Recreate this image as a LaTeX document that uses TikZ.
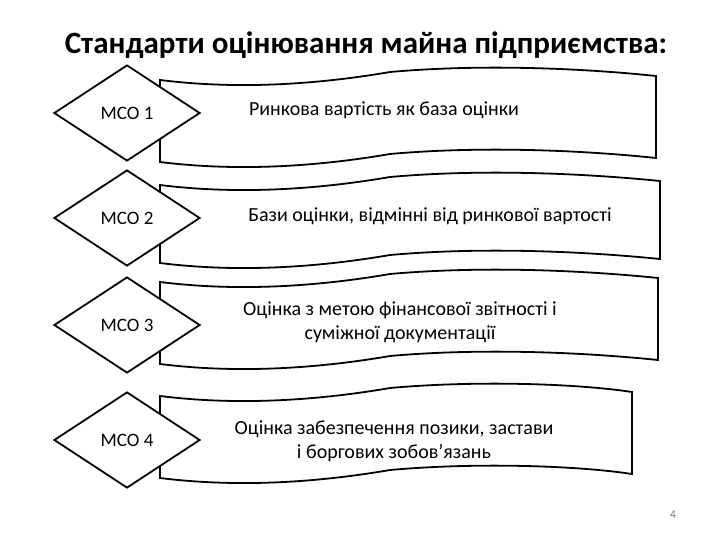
\documentclass[tikz,border=0pt]{standalone}
\usepackage{fontspec}
\setmainfont{Carlito}
\usetikzlibrary{shapes.geometric}
\newcommand{\banner}[3]{%
\draw[line width=1.8pt,fill=white] (160,#1+10) .. controls (240,#1+20) and (320,#1+14) .. (390,#1+2)
  .. controls (480,#1-6) and (580,#1-2) .. (#2,#1+6) -- (#2,#1+6+#3)
  .. controls (580,#1-2+#3) and (480,#1-6+#3) .. (390,#1+2+#3)
  .. controls (320,#1+14+#3) and (240,#1+20+#3) .. (160,#1+10+#3) -- cycle;}
\begin{document}
\begin{tikzpicture}
[
x=1pt, y=-1pt,
mco/.style={diamond, draw, line width=1.8pt, fill=white, minimum width=146pt, minimum height=96pt, inner sep=0pt, font=\fontsize{19}{22}\selectfont},
std/.style={align=center, font=\fontsize{20}{24}\selectfont}
]
\useasboundingbox (0,0) rectangle (720,540);
\node[font=\bfseries\fontsize{31}{36}\selectfont] (title) at (366,45) {Стандарти оцінювання майна підприємства:};

\banner{70}{656}{82}
\banner{175}{660}{78}
\banner{272}{658}{82}
\banner{386}{632}{82}

\node[mco] (m1) at (127,113) {МСО 1};
\node[mco] (m2) at (127,218) {МСО 2};
\node[mco] (m3) at (127,325) {МСО 3};
\node[mco] (m4) at (127,440) {МСО 4};

\node[std] (s1) at (384,110) {Ринкова вартість як база оцінки};
\node[std] (s2) at (430,216) {Бази оцінки, відмінні від ринкової вартості};
\node[std] (s3) at (400,322) {Оцінка з метою фінансової звітності і\\суміжної документації};
\node[std] (s4) at (394,441) {Оцінка забезпечення позики, застави\\і боргових зобов'язань};

\node[font=\fontsize{12}{14}\selectfont, text=gray] (page) at (673,515) {4};
\end{tikzpicture}
\end{document}
